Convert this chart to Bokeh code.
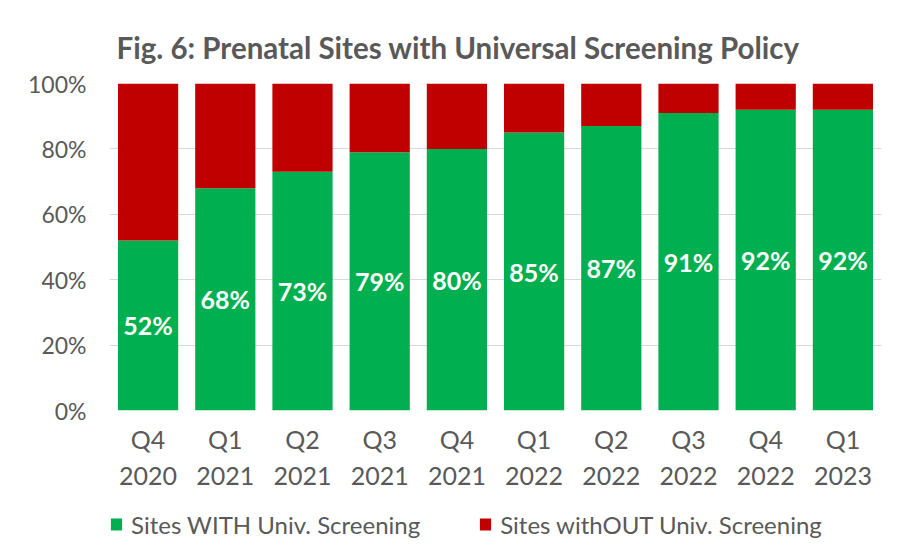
from bokeh.plotting import figure
from bokeh.layouts import column
from bokeh.core.properties import value
from bokeh.models import (ColumnDataSource, FactorRange, Range1d, FixedTicker,
                          NumeralTickFormatter, LabelSet, Legend, LegendItem, Title)
from bokeh.embed import file_html
from bokeh.resources import INLINE

# ---- data ----
quarter_names = ["Q4", "Q1", "Q2", "Q3", "Q4", "Q1", "Q2", "Q3", "Q4", "Q1"]
years = ["2020", "2021", "2021", "2021", "2021", "2022", "2022", "2022", "2022", "2023"]
with_screening = [52, 68, 73, 79, 80, 85, 87, 91, 92, 92]
without_screening = [100 - v for v in with_screening]
series_names = ["Sites WITH Univ. Screening", "Sites withOUT Univ. Screening"]
y_ticks = [0, 0.2, 0.4, 0.6, 0.8, 1.0]

GREEN = "#00B050"
RED = "#C00000"
GREY_TXT = "#595959"
FONT = "Lato"

factors = [f"{q}\n{y}" for q, y in zip(quarter_names, years)]

src = ColumnDataSource(dict(
    q=factors,
    with_s=[v / 100 for v in with_screening],
    without_s=[v / 100 for v in without_screening],
    lab_y=[v / 200 for v in with_screening],
    lab=[f"{v}%" for v in with_screening],
))

p = figure(x_range=FactorRange(*factors, range_padding=0), y_range=Range1d(0, 1),
           width=905, height=498, output_backend="svg", toolbar_location=None,
           min_border_left=109, min_border_right=24, min_border_top=83,
           min_border_bottom=88)

r = p.vbar_stack(["with_s", "without_s"], x="q", width=0.78, source=src,
                 color=[GREEN, RED], line_color=None)

labels = LabelSet(x="q", y="lab_y", text="lab", source=src, text_color="white",
                  text_font=value(FONT), text_font_style="bold",
                  text_font_size=value("25px"),
                  text_align="center", text_baseline="middle")
p.add_layout(labels)

# title
t = Title(text="Fig. 6: Prenatal Sites with Universal Screening Policy",
          text_font=FONT, text_font_style="bold", text_font_size="29.5px",
          text_color=GREY_TXT, align="left", offset=7, standoff=37)
p.add_layout(t, "above")

# axes
p.yaxis.ticker = FixedTicker(ticks=y_ticks)
p.yaxis.formatter = NumeralTickFormatter(format="0%")
p.yaxis.axis_line_color = None
p.yaxis.major_tick_line_color = None
p.yaxis.minor_tick_line_color = None
p.yaxis.major_label_standoff = 17
p.yaxis.major_label_text_font = FONT
p.yaxis.major_label_text_font_size = "23px"
p.yaxis.major_label_text_color = GREY_TXT

p.xaxis.axis_line_color = None
p.xaxis.major_tick_line_color = None
p.xaxis.minor_tick_line_color = None
p.xaxis.major_label_standoff = 7
p.xaxis.major_label_text_font = FONT
p.xaxis.major_label_text_font_size = "25px"
p.xaxis.major_label_text_color = GREY_TXT

p.xgrid.grid_line_color = None
p.ygrid.grid_line_color = "#D9D9D9"
p.ygrid.grid_line_width = 1
p.outline_line_color = None

# legend in its own strip below the chart (same series, drawn outside its view)
pl = figure(width=905, height=41, output_backend="svg", toolbar_location=None,
            x_range=FactorRange(*factors), y_range=Range1d(2, 3),
            x_axis_location=None, y_axis_location=None,
            min_border_left=109, min_border_right=24, min_border_top=11,
            min_border_bottom=0)
pl.grid.grid_line_color = None
pl.outline_line_color = None
rl = pl.vbar_stack(["with_s", "without_s"], x="q", width=0.78, source=src,
                   color=[GREEN, RED], line_color=None)
legend = Legend(items=[LegendItem(label=series_names[0], renderers=[rl[0]]),
                       LegendItem(label=series_names[1], renderers=[rl[1]])],
                orientation="horizontal", location="left",
                label_text_font=FONT, label_text_font_size="24px",
                label_text_color=GREY_TXT, glyph_width=14, glyph_height=15,
                spacing=58, label_standoff=8, border_line_color=None,
                background_fill_alpha=0, padding=0, margin=0)
pl.add_layout(legend)

layout = column(p, pl, spacing=0)
open("out.html", "w").write(file_html(layout, INLINE))
